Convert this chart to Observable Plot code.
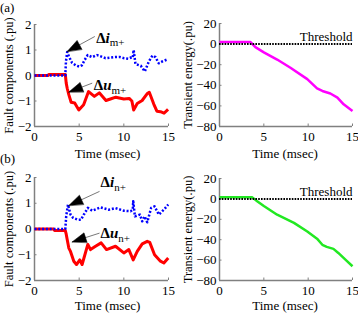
<!DOCTYPE html>
<html><head><meta charset="utf-8">
<script src="https://cdn.jsdelivr.net/npm/d3@7"></script>
<script src="https://cdn.jsdelivr.net/npm/@observablehq/plot@0.6"></script>
<style>
body{margin:0;background:#fff;}
#fig{position:relative;width:358px;height:313px;font-family:"Liberation Serif","DejaVu Serif",serif;overflow:hidden;}
#fig svg, #fig svg text{font-family:"Liberation Serif","DejaVu Serif",serif !important;}
.panel{position:absolute;}
.tag{position:absolute;font-size:13px;line-height:13px;color:#000;}
</style></head><body><div id="fig"></div>
<script>
// ---- ticks ----
const xTicks = [0, 5, 10, 15];
const compTicks = [-2, -1, 0, 1, 2];
const energyTicks = [-80, -60, -40, -20, 0, 20];

// ---- (a) fault components ----
const aTimeI = [0, 3.45, 3.52, 3.66, 3.85, 4.2, 4.6, 5.0, 5.3, 5.6, 5.95, 6.45, 7.0, 7.2, 7.95, 8.4, 8.9, 9.5, 10.0, 10.5, 10.9, 11.0, 11.1, 11.3, 11.9, 12.35, 12.8, 13.2, 13.55, 13.9, 14.3, 14.95];
const aDeltaI = [0, 0, 0.55, 0.92, 0.75, 0.5, 0.4, 0.35, 0.4, 0.6, 0.8, 0.72, 0.8, 0.78, 0.68, 0.7, 0.72, 0.73, 0.68, 0.66, 0.72, 0.7, 1.0, 0.45, 0.38, 0.16, 0.55, 0.78, 0.72, 0.48, 0.55, 0.64];
const aTimeU = [0, 1.5, 1.6, 3.45, 3.55, 3.66, 3.84, 4.1, 4.5, 4.96, 5.5, 6.05, 6.7, 7.25, 8.0, 8.5, 9.1, 10.0, 10.6, 10.9, 11.1, 11.5, 12.05, 12.6, 12.85, 13.35, 13.7, 14.1, 14.5, 14.95];
const aDeltaU = [0, 0, 0.04, 0.04, -0.3, -0.5, -0.75, -1.05, -1.08, -1.35, -1.15, -0.63, -0.82, -0.68, -0.98, -0.92, -0.85, -0.92, -0.9, -1.0, -1.35, -1.1, -0.98, -0.72, -0.66, -1.12, -1.4, -1.42, -1.48, -1.33];

// ---- (a) transient energy ----
const aTimeE = [0, 3.5, 4.05, 5.0, 6.5, 8.0, 9.9, 11.0, 11.6, 12.5, 13.3, 14.0, 15.0];
const aEnergy = [2, 2, -3, -8, -15, -23, -34, -43, -45.5, -48, -52, -58.5, -65];

// ---- (b) fault components ----
const bTimeI = [0, 3.45, 3.55, 3.75, 4.03, 4.33, 4.85, 5.2, 5.52, 5.97, 6.46, 7.39, 8.32, 9.07, 10.0, 10.75, 11.0, 11.05, 11.24, 11.8, 12.06, 12.32, 12.62, 13.06, 13.44, 13.92, 14.48, 14.97];
const bDeltaI = [0, 0, 0.5, 0.95, 0.56, 0.43, 0.36, 0.36, 0.56, 0.82, 0.71, 0.84, 0.75, 0.81, 0.71, 0.69, 0.75, 1.08, 0.49, 0.56, 0.30, 0.49, 0.26, 0.82, 0.88, 0.56, 0.75, 0.95];
const bTimeU = [0, 2.15, 2.25, 3.45, 3.55, 3.66, 3.84, 4.03, 4.4, 4.7, 5.07, 5.33, 5.97, 6.27, 6.83, 7.46, 8.06, 9.07, 10.0, 10.56, 11.05, 11.5, 12.06, 12.62, 12.9, 13.44, 14.1, 14.48, 14.97];
const bDeltaU = [0, 0, -0.06, -0.06, -0.2, -0.41, -0.74, -0.87, -1.25, -1.38, -1.2, -1.38, -0.6, -0.8, -0.67, -0.54, -0.8, -0.67, -0.93, -0.8, -1.2, -0.87, -0.58, -0.48, -0.52, -1.0, -1.25, -1.32, -1.13];

// ---- (b) transient energy ----
const bTimeE = [0, 3.7, 4.25, 5.0, 6.5, 8.4, 9.9, 11.0, 11.6, 12.1, 12.85, 13.4, 14.2, 15.0];
const bEnergy = [1.5, 1.5, -2.3, -7, -15.5, -23.5, -32, -39, -45, -47, -49, -53, -59.5, -66];

// ---- annotations (data coordinates) ----
const aNotes = [
  {sym: "i", sub: "m+", tipT: 3.66, tipV: 0.94, tailT: 6.75, tailV: 1.53, labT: 6.9, labV: 1.48},
  {sym: "u", sub: "m+", tipT: 3.84, tipV: -0.65, tailT: 6.46, tailV: -0.3, labT: 6.64, labV: -0.39}
];
const bNotes = [
  {sym: "i", sub: "n+", tipT: 3.84, tipV: 0.91, tailT: 7.28, tailV: 1.46, labT: 7.4, labV: 1.83},
  {sym: "u", sub: "n+", tipT: 4.22, tipV: -0.5, tailT: 7.28, tailV: -0.16, labT: 7.4, labV: -0.17}
];

const GRAY = "#808080";
const FONT = "Liberation Serif, DejaVu Serif, serif";
const fig = document.getElementById("fig");

const headShape = {draw(ctx, l, r) { ctx.moveTo(0, -l); ctx.lineTo(r, 0); ctx.lineTo(-r, 0); ctx.closePath(); }};

function panel(o) {
  const [mt, mr, mb, ml] = o.margin;
  const kx = (o.width - ml - mr) / 15;
  const ky = (o.height - mt - mb) / (o.yDomain[1] - o.yDomain[0]);
  const marks = [
    Plot.ruleY([o.yDomain[0]], {stroke: GRAY, strokeWidth: 1.5}),
    Plot.ruleX([0], {stroke: GRAY, strokeWidth: 1.5}),
    Plot.axisX(xTicks, {label: null, tickSize: -2.5, tickPadding: 8, stroke: GRAY, fill: "black", fontSize: 13}),
    Plot.axisY(o.yTicks, {label: null, tickSize: -2.5, tickPadding: 5.5, stroke: GRAY, fill: "black", fontSize: 13}),
    Plot.text([o.yLabel], {frameAnchor: "left", rotate: -90, dx: o.yLabelDx, textAnchor: "middle", lineAnchor: "middle", fontSize: 12.5, fill: "black"}),
    Plot.text(["Time (msec)"], {frameAnchor: "bottom", dx: o.xLabelDx, dy: o.xLabelDy, textAnchor: "middle", lineAnchor: "middle", fontSize: 13, fill: "black"})
  ];
  for (const s of o.lines) {
    marks.push(Plot.line(s.v, {x: s.t, y: s.v, stroke: s.color, strokeWidth: s.width, strokeDasharray: s.dash, strokeLinecap: "butt", strokeLinejoin: "round"}));
  }
  if (o.threshold) {
    marks.push(Plot.ruleY([0], {stroke: "black", strokeWidth: 2, strokeDasharray: "1.6,1.2"}));
    marks.push(Plot.text(["Threshold"], {x: 15, y: 0, textAnchor: "end", lineAnchor: "bottom", dy: -3, fontSize: 13, fill: "black"}));
  }
  if (o.notes) {
    marks.push(Plot.link(o.notes, {x1: "tailT", y1: "tailV", x2: "tipT", y2: "tipV", stroke: "#555", strokeWidth: 0.8}));
    marks.push(Plot.vector(o.notes, {x: "tipT", y: "tipV", anchor: "end", length: 14, r: 5, shape: headShape, fill: "black", stroke: "black", strokeWidth: 0.5,
      rotate: d => Math.atan2((d.tipT - d.tailT) * kx, (d.tipV - d.tailV) * ky) * 180 / Math.PI}));
    marks.push(Plot.text(o.notes, {x: "labT", y: "labV", text: d => "Δ" + d.sym + "|" + d.sub, textAnchor: "start", lineAnchor: "middle", fontSize: 15, fill: "black"}));
  }
  const svg = Plot.plot({
    width: o.width, height: o.height,
    marginTop: mt, marginRight: mr, marginBottom: mb, marginLeft: ml,
    x: {domain: [0, 15]},
    y: {domain: o.yDomain},
    style: {background: "transparent", fontFamily: FONT, color: "black", overflow: "visible"},
    marks
  });
  svg.setAttribute("font-family", FONT);
  d3.select(svg).selectAll("text").filter(function() { return this.textContent.includes("|"); }).each(function() {
    const [main, sub] = this.textContent.split("|");
    const t = d3.select(this);
    t.text(null);
    t.append("tspan").attr("font-weight", "bold").text(main[0]);
    t.append("tspan").attr("font-weight", "bold").attr("font-style", "italic").text(main.slice(1));
    t.append("tspan").attr("font-size", 11).attr("dy", "0.35em").text(sub);
  });
  svg.classList.add("panel");
  svg.style.left = o.left + "px";
  svg.style.top = o.top + "px";
  fig.appendChild(svg);
}

panel({left: 0, top: 0, width: 180, height: 162, margin: [24, 12, 36, 34], yDomain: [-2, 2], yTicks: compTicks,
  yLabel: "Fault components (.pu)", yLabelDx: -26, xLabelDx: 6, xLabelDy: 27,
  lines: [{t: aTimeU, v: aDeltaU, color: "#ff0000", width: 3}, {t: aTimeI, v: aDeltaI, color: "#0000ff", width: 2.5, dash: "2,1.8"}],
  notes: aNotes});
panel({left: 180, top: 0, width: 178, height: 162, margin: [23, 6, 36, 39], yDomain: [-80, 20], yTicks: energyTicks,
  yLabel: "Transient energy(.pu)", yLabelDx: -32, xLabelDx: -1, xLabelDy: 27,
  lines: [{t: aTimeE, v: aEnergy, color: "#ff00ff", width: 2.5}], threshold: true});
panel({left: 0, top: 162, width: 180, height: 151, margin: [15, 12, 33, 34], yDomain: [-2, 2], yTicks: compTicks,
  yLabel: "Fault components (.pu)", yLabelDx: -26, xLabelDx: 6, xLabelDy: 25,
  lines: [{t: bTimeU, v: bDeltaU, color: "#ff0000", width: 3}, {t: bTimeI, v: bDeltaI, color: "#0000ff", width: 2.5, dash: "2,1.8"}],
  notes: bNotes});
panel({left: 180, top: 162, width: 178, height: 151, margin: [16, 6, 33, 39], yDomain: [-80, 20], yTicks: energyTicks,
  yLabel: "Transient energy(.pu)", yLabelDx: -32, xLabelDx: -1, xLabelDy: 25,
  lines: [{t: bTimeE, v: bEnergy, color: "#22e822", width: 2.5}], threshold: true});

for (const [txt, top] of [["(a)", 1], ["(b)", 152]]) {
  const d = document.createElement("div");
  d.className = "tag"; d.textContent = txt; d.style.left = "0px"; d.style.top = top + "px";
  fig.appendChild(d);
}
</script>
</body></html>
